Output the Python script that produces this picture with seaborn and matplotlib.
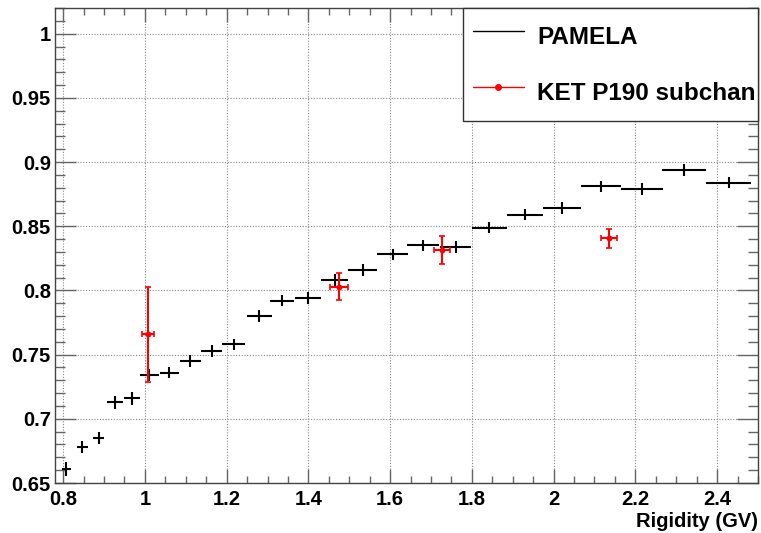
import numpy as np
import pandas as pd
import matplotlib
matplotlib.use("Agg")
import matplotlib.pyplot as plt
from matplotlib.lines import Line2D
from matplotlib.ticker import MultipleLocator
import seaborn as sns

# PAMELA points (rigidity, ratio, half bin width, error)
pamela_x = [0.808, 0.847, 0.887, 0.926, 0.969, 1.011, 1.060, 1.111, 1.163, 1.217,
            1.280, 1.335, 1.399, 1.464, 1.533, 1.606, 1.681, 1.760, 1.843, 1.929,
            2.020, 2.116, 2.216, 2.319, 2.428]
pamela_y = [0.661, 0.678, 0.685, 0.713, 0.716, 0.734, 0.736, 0.745, 0.753, 0.758,
            0.780, 0.792, 0.794, 0.808, 0.816, 0.828, 0.835, 0.834, 0.849, 0.859,
            0.864, 0.881, 0.879, 0.894, 0.884]
pamela_xerr = [0.012, 0.014, 0.014, 0.0195, 0.020, 0.0235, 0.024, 0.026, 0.026, 0.028,
               0.030, 0.030, 0.0325, 0.034, 0.036, 0.037, 0.039, 0.039, 0.043, 0.044,
               0.046, 0.049, 0.052, 0.053, 0.055]
pamela_yerr = [0.0055, 0.005, 0.005, 0.005, 0.005, 0.0045, 0.0045, 0.0045, 0.0045, 0.0045,
               0.0045, 0.0045, 0.0045, 0.0045, 0.0045, 0.0045, 0.0045, 0.0045, 0.0045, 0.0045,
               0.0045, 0.0045, 0.0045, 0.0045, 0.0045]

# KET P190 subchannel points
ket_x = [1.008, 1.475, 1.726, 2.136]
ket_y = [0.766, 0.803, 0.8315, 0.8406]
ket_xerr = [0.014, 0.022, 0.0195, 0.019]
ket_yerr = [0.037, 0.0105, 0.011, 0.0075]

pamela = pd.DataFrame({"x": pamela_x, "y": pamela_y, "xerr": pamela_xerr, "yerr": pamela_yerr})
ket = pd.DataFrame({"x": ket_x, "y": ket_y, "xerr": ket_xerr, "yerr": ket_yerr})

sns.set_style("ticks")
plt.rcParams["font.family"] = ["Liberation Sans", "DejaVu Sans"]
plt.rcParams["font.weight"] = "bold"
plt.rcParams["text.color"] = "black"
plt.rcParams["xtick.labelcolor"] = "black"
plt.rcParams["ytick.labelcolor"] = "black"

fig = plt.figure(figsize=(7.61, 5.33), dpi=100)
ax = fig.add_axes([0.0723, 0.0938, 0.9237, 0.8912])

ax.errorbar(pamela["x"], pamela["y"], xerr=pamela["xerr"], yerr=pamela["yerr"],
            fmt="none", ecolor="black", elinewidth=1.5, capsize=0, zorder=3)
ax.errorbar(ket["x"], ket["y"], xerr=ket["xerr"], yerr=ket["yerr"],
            fmt="none", ecolor="red", elinewidth=1.5, capsize=2, capthick=1.2, zorder=4)
sns.scatterplot(data=ket, x="x", y="y", color="red", s=18, edgecolor="red",
                linewidth=0, ax=ax, zorder=5, legend=False)

ax.set_xlim(0.78, 2.5)
ax.set_ylim(0.65, 1.02)
ax.xaxis.set_major_locator(MultipleLocator(0.2))
ax.xaxis.set_minor_locator(MultipleLocator(0.05))
ax.yaxis.set_major_locator(MultipleLocator(0.05))
ax.yaxis.set_minor_locator(MultipleLocator(0.01))

def fmt(v, pos):
    return f"{v:.2f}".rstrip("0").rstrip(".")
ax.xaxis.set_major_formatter(plt.FuncFormatter(fmt))
ax.yaxis.set_major_formatter(plt.FuncFormatter(fmt))

ax.tick_params(axis="both", which="both", direction="in", top=True, right=True,
               color="#666666", labelcolor="black", labelsize=14.5, width=1)
ax.tick_params(axis="x", which="major", length=10, pad=5)
ax.tick_params(axis="x", which="minor", length=5)
ax.tick_params(axis="y", which="major", length=15, pad=3)
ax.tick_params(axis="y", which="minor", length=7)
for lab in ax.get_xticklabels() + ax.get_yticklabels():
    lab.set_fontweight("bold")

ax.grid(True, which="major", linestyle=(0, (1, 1.5)), color="#888888", linewidth=0.8)
for sp in ax.spines.values():
    sp.set_color("#444444")
    sp.set_linewidth(1)

ax.set_xlabel("Rigidity (GV)", loc="right", fontsize=14.5, fontweight="bold",
              color="black", labelpad=2)
ax.set_ylabel("")

handles = [Line2D([], [], color="black", lw=1),
           Line2D([], [], color="red", lw=1, marker="o", markersize=4)]
leg = ax.legend(handles, ["PAMELA", "KET P190 subchan"], loc="upper right",
                bbox_to_anchor=(0.580, 0.7185, 0.420, 0.2815), mode="expand",
                borderaxespad=0, fancybox=False, framealpha=1, edgecolor="#333333",
                prop={"size": 17.5, "weight": "bold"}, handlelength=2.1,
                handletextpad=0.56, borderpad=0.41, handleheight=1.9, labelspacing=0.85,
                labelcolor="black")
leg.get_frame().set_linewidth(1)

fig.savefig("out.png", dpi=100)
